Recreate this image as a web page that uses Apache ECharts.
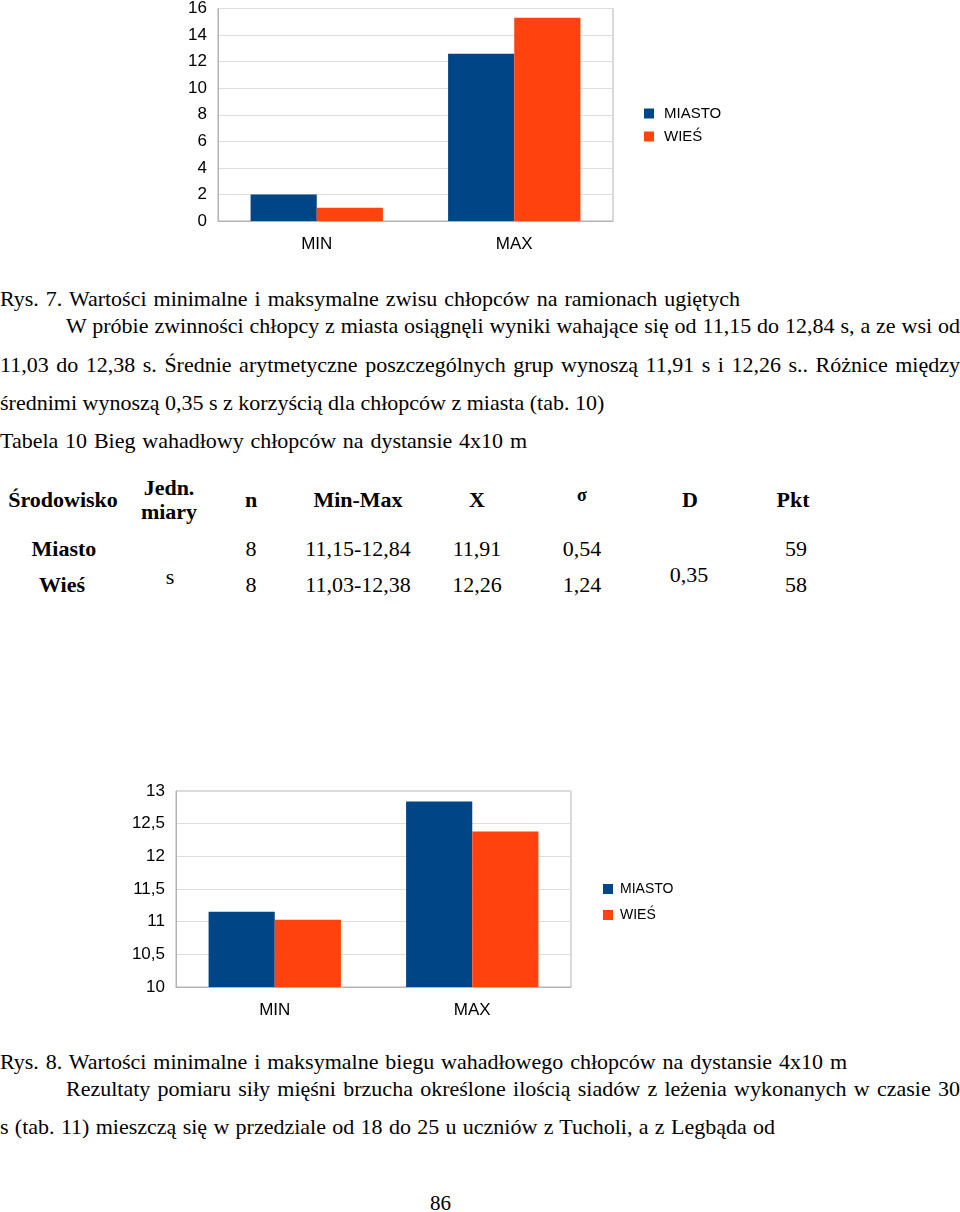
<!DOCTYPE html>
<html>
<head>
<meta charset="utf-8">
<script src="https://cdn.jsdelivr.net/npm/echarts@6/dist/echarts.min.js"></script>
<style>
  html, body { margin: 0; padding: 0; background: #fff; }
  body { width: 960px; height: 1212px; position: relative; overflow: hidden;
         font-family: "Liberation Serif", "Times New Roman", serif; color: #000; }
  .chart { position: absolute; left: 0; width: 960px; }
  #chart1 { top: 0; height: 270px; }
  #chart2 { top: 770px; height: 270px; }
  .ln { position: absolute; font-size: 22px; line-height: 22px; white-space: nowrap;
        text-align: justify; text-align-last: justify; }
  .cell { position: absolute; width: 200px; text-align: center; font-size: 22px; line-height: 22px; white-space: nowrap; }
  .b { font-weight: bold; }
</style>
</head>
<body>
<div id="chart1" class="chart"></div>

<div class="ln" style="left:0; top:288px; width:740px;">Rys. 7. Wartości minimalne i maksymalne zwisu chłopców na ramionach ugiętych</div>
<div class="ln" style="left:66px; top:315px; width:894px;">W próbie zwinności chłopcy z miasta osiągnęli wyniki wahające się od 11,15 do 12,84 s, a ze wsi od</div>
<div class="ln" style="left:0; top:354px; width:960px;">11,03 do 12,38 s. Średnie arytmetyczne poszczególnych grup wynoszą 11,91 s i 12,26 s.. Różnice między</div>
<div class="ln" style="left:0; top:392px; width:603px;">średnimi wynoszą 0,35 s z korzyścią dla chłopców z miasta (tab. 10)</div>
<div class="ln" style="left:0; top:430px; width:527px;">Tabela 10 Bieg wahadłowy chłopców na dystansie 4x10 m</div>

<!-- tabela 10 -->
<div class="cell b" style="left:-37px; top:489px;">Środowisko</div>
<div class="cell b" style="left:69px; top:477px;">Jedn.</div>
<div class="cell b" style="left:69px; top:501px;">miary</div>
<div class="cell b" style="left:151px; top:489px;">n</div>
<div class="cell b" style="left:258px; top:489px;">Min-Max</div>
<div class="cell b" style="left:377px; top:489px;">X</div>
<div class="cell b" style="left:482px; top:484px; font-size:18px;">σ</div>
<div class="cell b" style="left:590px; top:489px;">D</div>
<div class="cell b" style="left:693px; top:489px;">Pkt</div>

<div class="cell b" style="left:-36px; top:538px;">Miasto</div>
<div class="cell b" style="left:-38px; top:574px;">Wieś</div>
<div class="cell" style="left:70px; top:566px;">s</div>
<div class="cell" style="left:151px; top:538px;">8</div>
<div class="cell" style="left:151px; top:574px;">8</div>
<div class="cell" style="left:258px; top:538px;">11,15-12,84</div>
<div class="cell" style="left:258px; top:574px;">11,03-12,38</div>
<div class="cell" style="left:377px; top:538px;">11,91</div>
<div class="cell" style="left:377px; top:574px;">12,26</div>
<div class="cell" style="left:482px; top:538px;">0,54</div>
<div class="cell" style="left:482px; top:574px;">1,24</div>
<div class="cell" style="left:589px; top:564px;">0,35</div>
<div class="cell" style="left:696px; top:538px;">59</div>
<div class="cell" style="left:696px; top:574px;">58</div>

<div id="chart2" class="chart"></div>

<div class="ln" style="left:0; top:1051px; width:847px;">Rys. 8. Wartości minimalne i maksymalne biegu wahadłowego chłopców na dystansie 4x10 m</div>
<div class="ln" style="left:66px; top:1078px; width:894px;">Rezultaty pomiaru siły mięśni brzucha określone ilością siadów z leżenia wykonanych w czasie 30</div>
<div class="ln" style="left:0; top:1116px; width:775px;">s (tab. 11) mieszczą się w przedziale od 18 do 25 u uczniów z Tucholi, a z Legbąda od</div>
<div class="ln" style="left:430px; top:1193px; width:21px; font-size:21px; line-height:21px;">86</div>

<script>
  // dane
  const categories = ['MIN', 'MAX'];
  const seriesNames = ['MIASTO', 'WIEŚ'];
  // Rys. 7 - zwis na ramionach ugiętych
  const hangMiasto = [2.0, 12.6];
  const hangWies = [1.0, 15.3];
  // Rys. 8 - bieg wahadłowy 4x10 m [s]
  const runMiasto = [11.15, 12.84];
  const runWies = [11.03, 12.38];

  const colors = ['#004586', '#ff420e'];
  const sans = '"Liberation Sans", Arial, sans-serif';

  function makeOption(a, b, yMin, yMax, step, grid, legendPos, legendFont, legendGap, textPad) {
    return {
      animation: false,
      color: colors,
      grid: Object.assign({ show: true, borderColor: '#b3b3b3', borderWidth: 1, containLabel: false }, grid),
      legend: {
        data: seriesNames,
        orient: 'vertical',
        left: legendPos[0],
        top: legendPos[1],
        padding: 0,
        icon: 'rect',
        itemWidth: 10,
        itemHeight: 10,
        itemGap: legendGap,
        textStyle: { fontSize: legendFont, color: '#000', fontFamily: sans, padding: [0, 0, 0, textPad] }
      },
      xAxis: {
        type: 'category',
        data: categories,
        axisLine: { lineStyle: { color: '#b3b3b3' } },
        axisTick: { show: false },
        axisLabel: { fontSize: 17, color: '#000', fontFamily: sans, margin: 15 }
      },
      yAxis: {
        type: 'value',
        min: yMin,
        max: yMax,
        interval: step,
        axisLine: { show: true, lineStyle: { color: '#b3b3b3' } },
        axisTick: { show: false },
        splitLine: { lineStyle: { color: '#dedede' } },
        axisLabel: {
          fontSize: 17, color: '#000', fontFamily: sans, margin: 11,
          formatter: v => String(v).replace('.', ',')
        }
      },
      series: [
        { name: seriesNames[0], type: 'bar', data: a, barGap: 0, barCategoryGap: '33%' },
        { name: seriesNames[1], type: 'bar', data: b, barGap: 0, barCategoryGap: '33%' }
      ]
    };
  }

  var chart1 = echarts.init(document.getElementById('chart1'));
  chart1.setOption(makeOption(hangMiasto, hangWies, 0, 16, 2,
    { left: 218, top: 7, width: 395, height: 214 }, [644, 106], 15, 8, 5));

  var chart2 = echarts.init(document.getElementById('chart2'));
  chart2.setOption(makeOption(runMiasto, runWies, 10, 13, 0.5,
    { left: 176, top: 21, width: 395, height: 196 }, [603, 112], 14, 12, 2));
</script>
</body>
</html>
